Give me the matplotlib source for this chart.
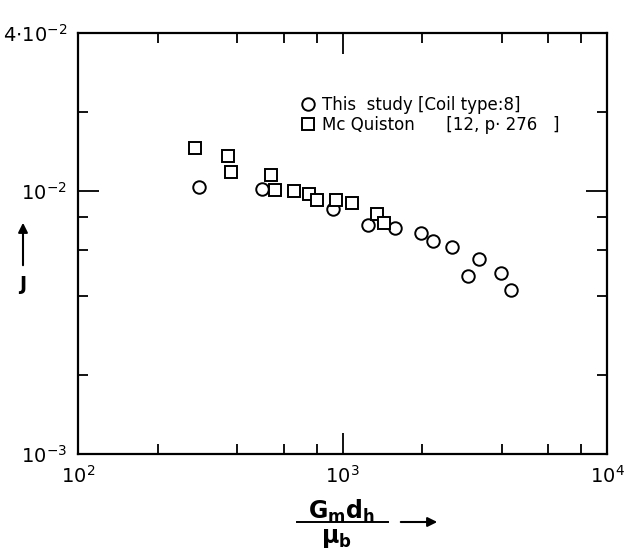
import matplotlib
matplotlib.use('Agg')
import matplotlib.pyplot as plt
from matplotlib.ticker import LogLocator, FixedLocator, FixedFormatter, NullFormatter

plt.rcParams['font.family'] = ['DejaVu Sans']
plt.rcParams['mathtext.fontset'] = 'dejavusans'

# ==================== 数据 ====================
# This study [Coil type:8]
re_study = [287, 496, 921, 1249, 1579, 1981, 2199, 2594, 3282, 2982, 3974, 4336]
j_study = [0.01037, 0.01019, 0.00856, 0.00743, 0.00724, 0.00693,
           0.00646, 0.00613, 0.00552, 0.00476, 0.00488, 0.00421]

# Mc Quiston [12, p.276]
re_mcq = [277, 369, 379, 537, 556, 656, 747, 801, 945, 1086, 1350, 1435]
j_mcq = [0.01460, 0.01361, 0.01183, 0.01152, 0.01011, 0.01002,
         0.00976, 0.00926, 0.00926, 0.00902, 0.00819, 0.00757]

x_ticks = [1e2, 1e3, 1e4]
x_tick_labels = ['$10^{2}$', '$10^{3}$', '$10^{4}$']
y_ticks = [1e-3, 1e-2, 4e-2]
y_tick_labels = ['$10^{-3}$', '$10^{-2}$', r'$4{\cdot}10^{-2}$']

label_study = 'This  study [Coil type:8]'
label_mcq = 'Mc Quiston      [12, p· 276   ]'

# ==================== 绘图 ====================
fig = plt.figure(figsize=(6.24, 5.5), dpi=100)
ax = fig.add_axes([78 / 624, 96 / 550, 529 / 624, 421 / 550])

ax.plot(re_study, j_study, 'o', ms=9, mfc='white', mec='black', mew=1.4,
        ls='none', label=label_study)
ax.plot(re_mcq, j_mcq, 's', ms=8.5, mfc='white', mec='black', mew=1.4,
        ls='none', label=label_mcq)

ax.set_xscale('log')
ax.set_yscale('log')
ax.set_xlim(1e2, 1e4)
ax.set_ylim(1e-3, 4e-2)

ax.xaxis.set_major_locator(FixedLocator(x_ticks))
ax.xaxis.set_major_formatter(FixedFormatter(x_tick_labels))
ax.xaxis.set_minor_locator(LogLocator(base=10, subs=[2, 4, 6, 8]))
ax.xaxis.set_minor_formatter(NullFormatter())
ax.yaxis.set_major_locator(FixedLocator(y_ticks))
ax.yaxis.set_major_formatter(FixedFormatter(y_tick_labels))
ax.yaxis.set_minor_locator(LogLocator(base=10, subs=[2, 4, 6, 8]))
ax.yaxis.set_minor_formatter(NullFormatter())

ax.tick_params(which='both', direction='in', top=True, right=True, width=1.3)
ax.tick_params(which='major', length=15, labelsize=14, pad=8)
ax.tick_params(which='minor', length=7)
for s in ax.spines.values():
    s.set_linewidth(1.6)

ax.legend(loc='upper left', bbox_to_anchor=(0.41, 0.866), frameon=False,
          fontsize=12, handlelength=0.8, handletextpad=0.4, labelspacing=0.12,
          borderaxespad=0)

# 坐标轴标题（分数 + 箭头）
fig.text(342 / 624, 1 - 519 / 550, r'$\mathbf{G_m d_h}$', fontsize=17,
         ha='center', va='baseline')
fig.add_artist(plt.Line2D([297 / 624, 388 / 624], [1 - 522 / 550, 1 - 522 / 550],
                          color='black', lw=1.4))
fig.text(336 / 624, 1 - 526 / 550, r'$\mathbf{\mu_b}$', fontsize=17,
         ha='center', va='top')
fig.add_artist(plt.Annotation('', xy=(440 / 624, 1 - 522 / 550), xycoords='figure fraction',
                              xytext=(398 / 624, 1 - 522 / 550), textcoords='figure fraction',
                              arrowprops=dict(arrowstyle='-|>', color='black', lw=1.5,
                                              mutation_scale=14)))
fig.text(23 / 624, 1 - 285 / 550, 'J', fontsize=14, fontweight='bold',
         ha='center', va='center')
fig.add_artist(plt.Annotation('', xy=(23 / 624, 1 - 220 / 550), xycoords='figure fraction',
                              xytext=(23 / 624, 1 - 268 / 550), textcoords='figure fraction',
                              arrowprops=dict(arrowstyle='-|>', color='black', lw=1.5,
                                              mutation_scale=14)))

fig.savefig('out.png', dpi=100)
